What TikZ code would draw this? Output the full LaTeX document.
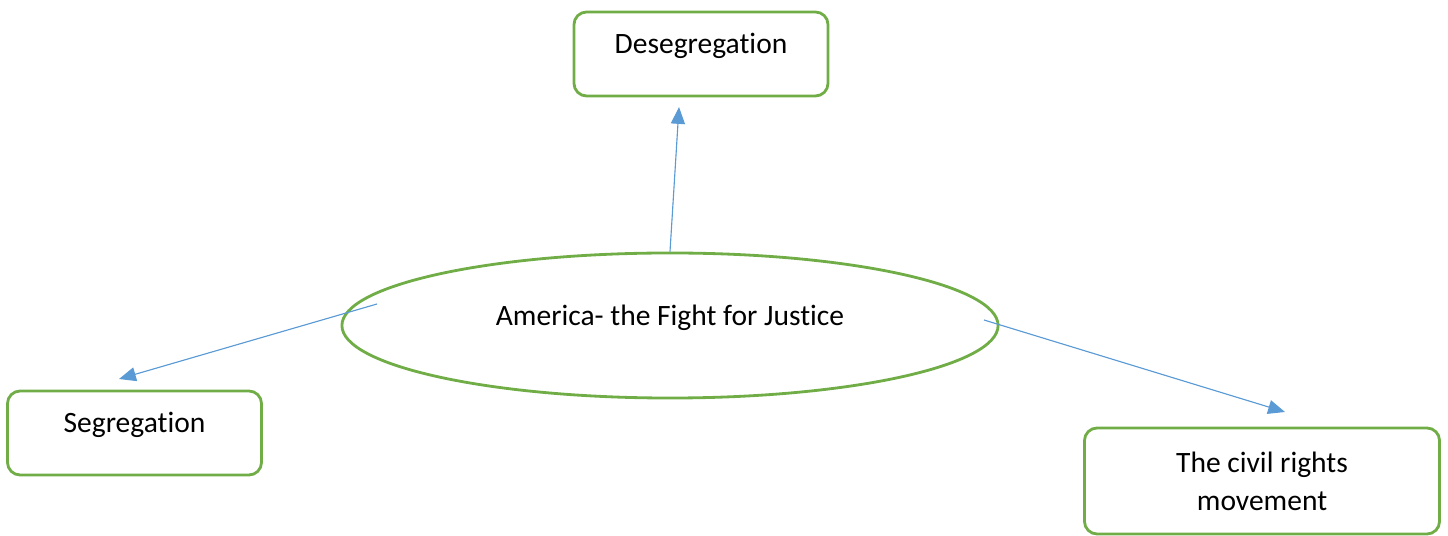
\documentclass[tikz,border=0pt]{standalone}
\usepackage{fontspec}
\setmainfont{Carlito}[Ligatures = NoCommon]
\usetikzlibrary{shapes.geometric, arrows.meta}

\definecolor{leafgreen}{HTML}{70AD47}
\definecolor{linkblue}{HTML}{5B9BD5}

\begin{document}
\begin{tikzpicture}[x = 0.025cm, y = -0.025cm, > = {Triangle[length = 12pt, width = 10pt]},
	font = \fontsize{21}{27}\selectfont,
	topic/.style = {draw = leafgreen, line width = 2pt, rounded corners = 9pt, inner sep = 0pt},
	oneline/.style = {topic, minimum width = 6.35cm, minimum height = 2.1cm, text height = 10pt, text depth = 10pt},
	link/.style = {->, draw = linkblue, fill = linkblue, line width = 0.8pt}]

	% Definition
	
	\useasboundingbox (0, 0) rectangle (1448, 536);
	
	% Central idea
	
	\node [draw = leafgreen, line width = 2pt, ellipse, inner sep = 0pt, minimum width = 16.4cm, minimum height = 3.625cm, text height = 10pt, text depth = 10pt] (america) at (670, 325.5) {America- the Fight for Justice};
	
	% Sub topics
	
	\node [oneline] (deseg) at (701, 54) {Desegregation};
	\node [oneline] (seg) at (134.5, 433) {Segregation};
	\node [topic, minimum width = 8.875cm, minimum height = 2.65cm, align = center] (civil) at (1262, 481) {The civil rights\\movement};
	
	% Arrow ends
	
	\coordinate (upTip) at (679, 107);
	\coordinate (leftFrom) at (377, 304);
	\coordinate (leftTip) at (119, 379);
	\coordinate (rightFrom) at (984, 320);
	\coordinate (rightTip) at (1285, 412);
	
	% Arrows
	
	\foreach \from/\to in {america.north/upTip, leftFrom/leftTip, rightFrom/rightTip}
	{
		\draw [link] (\from) -- (\to);
	}

\end{tikzpicture}
\end{document}
